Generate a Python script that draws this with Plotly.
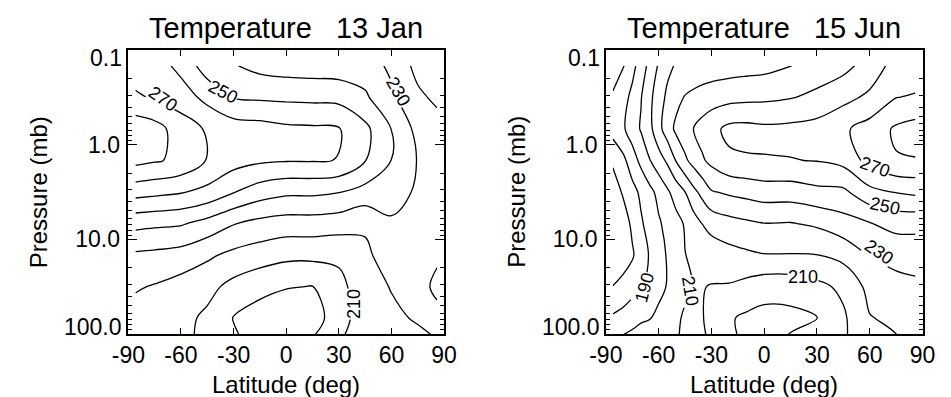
import numpy as np
import plotly.graph_objects as go

# ---------------- data ----------------
PRESSURE = [0.147, 0.316, 0.681, 1.47, 3.16, 6.81, 14.7, 31.6, 68.1, 147.0]

LAT_JAN = [-86, -75, -60, -45, -30, -15, 0, 15, 30, 45, 60, 75, 86]
# temperature (K), one row per pressure level, columns follow LAT_JAN
T_13JAN = [
    [263, 265, 257, 245, 240.7, 237, 235.5, 235, 234.5, 235, 228, 217, 214],
    [272, 268.5, 265, 257, 249.5, 248.5, 248, 247.5, 247, 241.5, 232, 222, 218],
    [286, 284, 275, 268.9, 265, 264, 262, 261.5, 260.6, 252.5, 239.8, 227, 224],
    [283, 281, 278, 269.4, 264, 261.5, 260.6, 260.6, 259.8, 250.3, 239.8, 229.5, 227],
    [264, 262.7, 260.8, 257.3, 250.5, 245, 242, 242, 240.4, 236.5, 233, 229, 227],
    [243, 242, 241, 236.5, 230.5, 227, 225.5, 225.5, 224.5, 221.5, 229, 228, 226],
    [228.4, 227.6, 226, 221.7, 217.5, 215, 212.5, 212.5, 212, 218, 225, 225, 221],
    [221, 219.3, 216, 213, 207, 202.7, 200.5, 199.8, 207, 216, 220.5, 222.5, 218.5],
    [216, 215, 213, 208, 199.5, 196, 194, 195, 206, 215, 218, 221, 222],
    [217, 215, 213, 207, 203, 197, 195, 203, 210.5, 215, 217, 216, 219],
]

LAT_JUN = [-86, -80, -75, -70, -65, -60, -55, -50, -45, -40, -35, -30, -20, -10,
           0, 15, 30, 45, 60, 75, 86]
T_15JUN = [
    [184, 189.4, 196.9, 204.8, 213.1, 221.1, 227.6, 231, 232, 233, 234, 234.5, 235.5, 236.3,
     237, 239.8, 245, 247, 254, 264, 265],
    [191.5, 196.6, 202.5, 209.5, 217.6, 225.4, 232, 237, 240.6, 242.5, 244, 245.3, 246.7, 247.5,
     248, 249.5, 252, 257, 262, 269.8, 270.8],
    [194, 198.8, 204.9, 210.9, 217.2, 226.9, 235, 242.2, 246.1, 250.6, 253.8, 257, 262.5, 263,
     262, 262.5, 264, 268.5, 274, 281.5, 284],
    [181.5, 187.8, 195.3, 202.6, 209.6, 215.6, 221.7, 230.6, 238.2, 243.7, 248.9, 252.5, 258, 259,
     259.5, 259.7, 260.3, 263, 273.5, 279.3, 279.5],
    [175, 181.3, 186.6, 192, 197.3, 202.8, 208.5, 214.3, 219.9, 227.5, 233.3, 239.3, 241.6, 243.3,
     245, 245, 247.5, 248, 257, 260.5, 262],
    [173, 175.5, 181.8, 188.7, 193.9, 198.7, 202.9, 206.8, 210.9, 215.7, 220.3, 223.5, 226.5, 228.3,
     229.8, 229.5, 231.5, 236, 239.5, 243, 243],
    [173, 175, 178.8, 184.9, 190.9, 195.8, 200.9, 205.5, 209.8, 211.5, 213, 214.3, 216.5, 218.2,
     219.5, 219.5, 219.8, 223, 230.3, 233.5, 234],
    [180.2, 183.4, 186.2, 188.9, 192.5, 196.6, 200.7, 204.7, 208.6, 210.2, 210.3, 209.6, 209.2, 206.8,
     204, 204, 207.5, 212, 223, 226.5, 228],
    [191.5, 193.6, 196.4, 198.7, 199.6, 202.9, 206.4, 208.8, 211, 211.5, 210.4, 207, 201, 198.3,
     197, 197.5, 199.5, 208.5, 219.5, 222, 225],
    [205, 206, 206.5, 207, 207.5, 208, 208.5, 209.5, 211.5, 212, 211.5, 209.5, 203, 199,
     198, 203, 206, 209, 216, 218, 223],
]

PANEL_TITLES = ["Temperature\u00a0\u00a0 13 Jan", "Temperature\u00a0\u00a0 15 Jun"]
XTICKS = [-90, -60, -30, 0, 30, 60, 90]
XTICK_TEXT = ["-90", "-60", "-30", "0", "30", "60", "90"]
YTICK_INNER = [1, 10]
YTICK_INNER_TEXT = ["1.0", "10.0"]
YTICK_EDGE = [0.1, 100]
YTICK_EDGE_TEXT = ["0.1", "100.0"]
LEVELS = dict(start=170, end=290, size=10)

# contour labels: (panel, text, lat, pressure, angle)
LABELS = [
    (1, "270", -70.1, 0.33, 35),
    (1, "250", -35.9, 0.278, 28),
    (1, "230", 64.0, 0.278, 60),
    (1, "210", 38.7, 48.2, -90),
    (2, "270", 63.0, 1.72, 20),
    (2, "250", 68.5, 4.45, 12),
    (2, "230", 65.2, 13.6, 35),
    (2, "210", 22.3, 25.0, 0),
    (2, "190", -68.0, 32.7, -75),
    (2, "210", -42.1, 35.2, 80),
]

FONT = "Liberation Sans, Arial, Helvetica, sans-serif"
W, H = 951, 397
X_DOMAINS = [[115 / W, 441 / W], [608 / W, 935 / W]]
Y_DOMAIN = [1 - 334 / H, 1 - 50 / H]

fig = go.Figure()
for i, (LAT, T) in enumerate([(LAT_JAN, T_13JAN), (LAT_JUN, T_15JUN)]):
    fig.add_trace(go.Contour(
        x=LAT, y=PRESSURE, z=np.array(T),
        contours=dict(coloring="lines", showlabels=False, **LEVELS),
        colorscale=[[0, "black"], [1, "black"]],
        line=dict(width=1.3),
        showscale=False, hoverinfo="skip",
        xaxis="x" if i == 0 else "x2",
        yaxis="y" if i == 0 else "y2",
    ))

axis_common = dict(
    showline=True, linecolor="black", linewidth=1.5, mirror="ticks",
    ticks="inside", tickcolor="black", showgrid=False, zeroline=False,
    tickfont=dict(family=FONT, size=23, color="black"),
)
for i in range(2):
    sfx = "" if i == 0 else str(i + 1)
    fig.layout["xaxis" + sfx] = dict(
        axis_common, domain=X_DOMAINS[i], range=[-90, 90], tickvals=XTICKS,
        ticktext=XTICK_TEXT, ticklen=6, tickwidth=1.3, anchor="y" + sfx,
    )
    fig.layout["yaxis" + sfx] = dict(
        axis_common, domain=Y_DOMAIN, type="log", range=[2, -1],
        tickvals=YTICK_INNER, ticktext=YTICK_INNER_TEXT, ticklen=9, tickwidth=1.3,
        minor=dict(ticks="inside", ticklen=4, dtick="D1", tickcolor="black", showgrid=False),
        anchor="x" + sfx, ticklabelstandoff=2,
    )

ann = []
centers = [(115 + 441) / 2 / W, (608 + 935) / 2 / W]
ytitle_x = [22 / W, 515 / W]
for i in range(2):
    sfx = "" if i == 0 else str(i + 1)
    ann.append(dict(text=PANEL_TITLES[i], x=centers[i], y=1 - 28 / H, xref="paper", yref="paper",
                    showarrow=False, font=dict(family=FONT, size=29, color="black"),
                    xanchor="center", yanchor="middle"))
    ann.append(dict(text="Latitude (deg)", x=centers[i], y=1 - 384 / H, xref="paper", yref="paper",
                    showarrow=False, font=dict(family=FONT, size=24, color="black"),
                    xanchor="center", yanchor="middle"))
    ann.append(dict(text="Pressure (mb)", x=ytitle_x[i], y=1 - 192 / H, xref="paper", yref="paper",
                    showarrow=False, textangle=-90, font=dict(family=FONT, size=24, color="black"),
                    xanchor="center", yanchor="middle"))
    for val, txt, shift in zip(YTICK_EDGE, YTICK_EDGE_TEXT, [-8, 7]):
        ann.append(dict(text=txt, x=0, xref="x%s domain" % sfx, y=np.log10(val), yref="y" + sfx,
                        xanchor="right", yanchor="middle", xshift=-4, yshift=shift, showarrow=False,
                        font=dict(family=FONT, size=23, color="black")))

for panel, txt, la, p, ang in LABELS:
    sfx = "" if panel == 1 else "2"
    ann.append(dict(text=txt, x=la, y=np.log10(p), xref="x" + sfx, yref="y" + sfx,
                    showarrow=False, textangle=ang, bgcolor="white", borderpad=0,
                    font=dict(family=FONT, size=18, color="black")))

fig.update_layout(
    width=W, height=H, margin=dict(l=0, r=0, t=0, b=0),
    paper_bgcolor="white", plot_bgcolor="white", showlegend=False,
    annotations=ann,
)
fig.write_html("out.html")
